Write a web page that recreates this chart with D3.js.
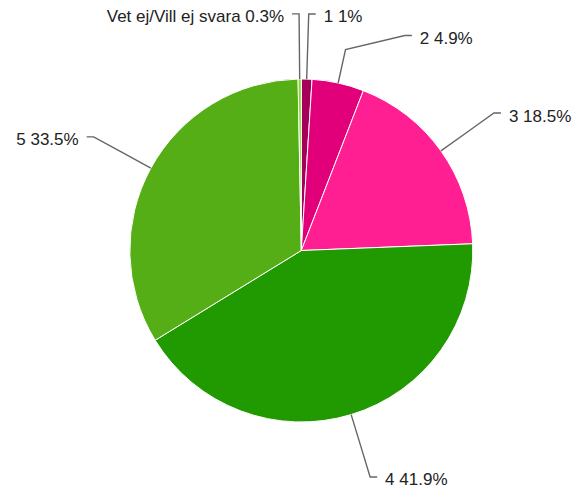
<!DOCTYPE html>
<html><head><meta charset="utf-8">
<script src="https://cdn.jsdelivr.net/npm/d3@7"></script>
<style>html,body{margin:0;padding:0;background:#fff;}</style>
</head><body>
<svg id="c" width="576" height="493"></svg>
<script>
const categories = ["1", "2", "3", "4", "5", "Vet ej/Vill ej svara"];
const values = [1, 4.9, 18.5, 41.9, 33.5, 0.3];
const labels = ["1 1%", "2 4.9%", "3 18.5%", "4 41.9%", "5 33.5%", "Vet ej/Vill ej svara 0.3%"];
const colors = ["#a6005b", "#e2007a", "#ff1f92", "#219900", "#55ae15", "#86d930"];

const W = 576, H = 493;
const cx = 301.3, cy = 250.5, r = 171.5;
const svg = d3.select("#c");
const g = svg.append("g").attr("transform", `translate(${cx},${cy})`);

const pie = d3.pie().sort(null).value(d => d.v).startAngle(0).endAngle(2 * Math.PI);
const data = categories.map((c, i) => ({ c, v: values[i], label: labels[i], color: colors[i] }));
const arcs = pie(data);
const arc = d3.arc().innerRadius(0).outerRadius(r);

g.selectAll("path.slice").data(arcs).enter().append("path")
  .attr("class", "slice")
  .attr("d", arc)
  .attr("fill", d => d.data.color)
  .attr("stroke", "#fff")
  .attr("stroke-width", 1);

// label layout
const R1 = r * 1.2, R2 = r * 1.38;
const pt = (a, rad) => [rad * Math.sin(a), -rad * Math.cos(a)];
const items = arcs.map(d => {
  const a = (d.startAngle + d.endAngle) / 2;
  const e = pt(a, R2);
  return { d, a, p0: pt(a, r), p1: pt(a, R1), ex: e[0], ey: e[1], side: e[0] >= 0 ? 1 : -1, pushed: false };
});
[1, -1].forEach(side => {
  const s = items.filter(it => it.side === side).sort((a, b) => a.ey - b.ey);
  for (let i = 1; i < s.length; i++) {
    if (s[i].ey < s[i - 1].ey + 21.5) { s[i].ey = s[i - 1].ey + 21.5; s[i].pushed = true; }
  }
  s.forEach(it => {
    if (it.pushed && Math.abs(it.ey) < R2 + 2) {
      it.ex = side * Math.sqrt((R2 + 2) ** 2 - it.ey ** 2);
    }
  });
});

const line = d3.line();
items.forEach(it => {
  const hx = it.ex + it.side * 7;
  g.append("path")
    .attr("d", line([it.p0, it.p1, [it.ex, it.ey], [hx, it.ey]]))
    .attr("fill", "none")
    .attr("stroke", "#666")
    .attr("stroke-width", 1.4);
  g.append("text")
    .attr("x", hx + it.side * 8)
    .attr("y", it.ey + 3)
    .attr("dominant-baseline", "central")
    .attr("text-anchor", it.side > 0 ? "start" : "end")
    .attr("font-family", "'Liberation Sans', Arial, sans-serif")
    .attr("font-size", 17)
    .attr("fill", "#222")
    .text(it.d.data.label);
});
</script>
</body></html>
